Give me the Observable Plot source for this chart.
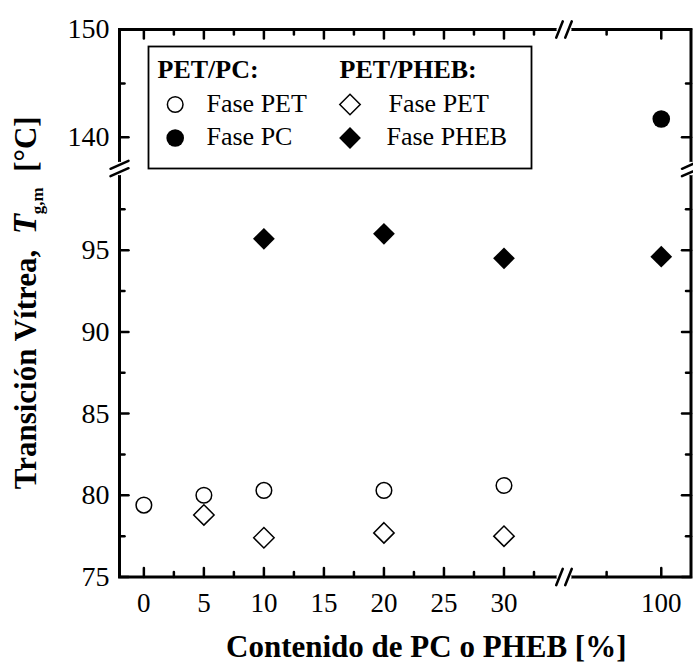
<!DOCTYPE html>
<html><head><meta charset="utf-8">
<script src="https://cdn.jsdelivr.net/npm/d3@7"></script>
<script src="https://cdn.jsdelivr.net/npm/@observablehq/plot@0.6"></script>
<style>
body{margin:0;background:#fff}
#chart{width:693px;height:664px}
</style>
</head><body><div id="chart"></div>
<script>
// ---- data ----
const pcPetX = [0, 5, 10, 20, 30];
const pcPetY = [79.4, 80.0, 80.3, 80.3, 80.6];
const pcPcX = [100];
const pcPcY = [141.7];
const phebPetX = [5, 10, 20, 30];
const phebPetY = [78.8, 77.4, 77.7, 77.5];
const phebPhebX = [10, 20, 30, 100];
const phebPhebY = [95.7, 96.0, 94.5, 94.6];
const xTicks = [0, 5, 10, 15, 20, 25, 30, 100];
const xMinor = [2.5, 7.5, 12.5, 17.5, 22.5, 27.5, 32.5, 95];
const yTicks = [75, 80, 85, 90, 95, 140, 150];
const yTickLabels = ["75", "80", "85", "90", "95", "140", "150"];
const yMinor = [77.5, 82.5, 87.5, 92.5, 97.5, 145];
const xBreak = [35];
const yBreak = [100];
const legendHeads = ["PET/PC:", "PET/PHEB:"];
const legendLabels = ["Fase PET", "Fase PC", "Fase PET", "Fase PHEB"];

const FONT = "'Liberation Serif','Times New Roman',Times,serif";
const mL = 119, mR = 2.5, mT = 29, mB = 87.5, W = 693, H = 664;

const pts = (xs, ys) => xs.map((x, i) => ({x, y: ys[i]}));

// custom vector shapes
const tickUp = {draw(c, l) { c.moveTo(0, 0); c.lineTo(0, -l); }};
const tickDown = {draw(c, l) { c.moveTo(0, 0); c.lineTo(0, l); }};
const tickRight = {draw(c, l) { c.moveTo(0, 0); c.lineTo(l, 0); }};
const tickLeft = {draw(c, l) { c.moveTo(0, 0); c.lineTo(-l, 0); }};
const gapH = {draw(c) { c.moveTo(-4.5, 0); c.lineTo(4.5, 0); }};
const slashH = {draw(c) { c.moveTo(-7.8, 8.2); c.lineTo(-1.2, -8.2); c.moveTo(1.2, 8.2); c.lineTo(7.8, -8.2); }};
const gapV = {draw(c) { c.moveTo(0, -3.8); c.lineTo(0, 3.8); }};
const slashV = {draw(c) { c.moveTo(-9, 0.3); c.lineTo(9, -7.7); c.moveTo(-9, 7.7); c.lineTo(9, -0.3); }};

const tickMarks = [];
for (const [vals, len] of [[xTicks, 9], [xMinor, 5]]) {
  tickMarks.push(Plot.vector(vals, {x: d => d, frameAnchor: "bottom", anchor: "start", length: len, shape: tickUp, strokeWidth: 2.5}));
  tickMarks.push(Plot.vector(vals, {x: d => d, frameAnchor: "top", anchor: "start", length: len, shape: tickDown, strokeWidth: 2.5}));
}
for (const [vals, len] of [[yTicks, 9], [yMinor, 5]]) {
  tickMarks.push(Plot.vector(vals, {y: d => d, frameAnchor: "left", anchor: "start", length: len, shape: tickRight, strokeWidth: 2.5}));
  tickMarks.push(Plot.vector(vals, {y: d => d, frameAnchor: "right", anchor: "start", length: len, shape: tickLeft, strokeWidth: 2.5}));
}

const breakMarks = [];
for (const fa of ["bottom", "top"]) {
  breakMarks.push(Plot.vector(xBreak, {x: d => d, frameAnchor: fa, anchor: "start", shape: gapH, stroke: "white", strokeWidth: 6}));
  breakMarks.push(Plot.vector(xBreak, {x: d => d, frameAnchor: fa, anchor: "start", shape: slashH, strokeWidth: 2.5}));
}
for (const fa of ["left", "right"]) {
  breakMarks.push(Plot.vector(yBreak, {y: d => d, frameAnchor: fa, anchor: "start", shape: gapV, stroke: "white", strokeWidth: 6}));
  breakMarks.push(Plot.vector(yBreak, {y: d => d, frameAnchor: fa, anchor: "start", shape: slashV, strokeWidth: 2.5}));
}

// legend (positions relative to the frame's top-left corner)
const LF = 26;
const legend = [
  Plot.frame({insetLeft: 29, insetTop: 17, insetRight: 159.5, insetBottom: 408.5, strokeWidth: 1.8}),
  Plot.text([legendHeads[0]], {frameAnchor: "top-left", dx: 38, dy: 40, text: d => d, textAnchor: "start", lineAnchor: "middle", fontSize: LF, fontWeight: "bold"}),
  Plot.text([legendHeads[1]], {frameAnchor: "top-left", dx: 220, dy: 40, text: d => d, textAnchor: "start", lineAnchor: "middle", fontSize: LF, fontWeight: "bold"}),
  Plot.dot([0], {frameAnchor: "top-left", dx: 55.7, dy: 75, r: 7.8, stroke: "black", strokeWidth: 1.5, fill: "white"}),
  Plot.dot([0], {frameAnchor: "top-left", dx: 55.7, dy: 108.5, r: 8.8, fill: "black", stroke: "none"}),
  Plot.dot([0], {frameAnchor: "top-left", dx: 230.5, dy: 75, r: 9.2, symbol: "diamond2", stroke: "black", strokeWidth: 1.5, fill: "white"}),
  Plot.dot([0], {frameAnchor: "top-left", dx: 230.5, dy: 108.5, r: 9.8, symbol: "diamond2", fill: "black", stroke: "none"}),
  Plot.text([legendLabels[0]], {frameAnchor: "top-left", dx: 87, dy: 74, text: d => d, textAnchor: "start", lineAnchor: "middle", fontSize: LF}),
  Plot.text([legendLabels[1]], {frameAnchor: "top-left", dx: 87, dy: 107, text: d => d, textAnchor: "start", lineAnchor: "middle", fontSize: LF}),
  Plot.text([legendLabels[2]], {frameAnchor: "top-left", dx: 269, dy: 74, text: d => d, textAnchor: "start", lineAnchor: "middle", fontSize: LF}),
  Plot.text([legendLabels[3]], {frameAnchor: "top-left", dx: 267, dy: 107, text: d => d, textAnchor: "start", lineAnchor: "middle", fontSize: LF})
];

const chart = Plot.plot({
  width: W, height: H,
  marginLeft: mL, marginRight: mR, marginTop: mT, marginBottom: mB,
  style: {fontFamily: FONT, color: "black", background: "white", overflow: "visible"},
  x: {type: "linear", domain: [-2.03, 35, 91.1, 102.72], range: [mL, 563.5, 563.5, W - mR], axis: null},
  y: {type: "linear", domain: [75, 100, 137.1, 150], range: [H - mB, 168, 168, mT], axis: null},
  marks: [
    Plot.frame({strokeWidth: 3}),
    ...tickMarks,
    ...breakMarks,
    Plot.text(xTicks, {x: d => d, frameAnchor: "bottom", dy: 26.5, lineAnchor: "middle", text: d => String(d), fontSize: 27}),
    Plot.text(yTicks, {y: d => d, frameAnchor: "left", dx: -10, textAnchor: "end", lineAnchor: "middle", text: (d, i) => yTickLabels[i], fontSize: 28}),
    Plot.text(["Contenido de PC o PHEB [%]"], {frameAnchor: "bottom", dx: 21, dy: 70.5, lineAnchor: "middle", text: d => d, fontSize: 31, fontWeight: "bold"}),
    Plot.dot(pts(pcPetX, pcPetY), {x: "x", y: "y", r: 7.8, stroke: "black", strokeWidth: 1.5, fill: "white"}),
    Plot.dot(pts(phebPetX, phebPetY), {x: "x", y: "y", r: 9.2, symbol: "diamond2", stroke: "black", strokeWidth: 1.5, fill: "white"}),
    Plot.dot(pts(pcPcX, pcPcY), {x: "x", y: "y", r: 8.8, fill: "black", stroke: "none"}),
    Plot.dot(pts(phebPhebX, phebPhebY), {x: "x", y: "y", r: 9.8, symbol: "diamond2", fill: "black", stroke: "none"}),
    ...legend
  ]
});
document.getElementById("chart").appendChild(chart);

// y-axis title with italic symbol and subscript
const cy = (mT + (H - mB)) / 2;
const yt = d3.select(chart).append("text")
  .attr("transform", `translate(25,${cy}) rotate(-90)`)
  .attr("text-anchor", "middle")
  .attr("dy", "0.35em")
  .attr("font-family", FONT).attr("font-size", 31).attr("font-weight", "bold").attr("fill", "black");
yt.append("tspan").text("Transición Vítrea,\u00a0\u00a0");
yt.append("tspan").attr("font-style", "italic").attr("font-size", 33).text("T");
yt.append("tspan").attr("font-size", 17).attr("dy", 7).text("g,m");
yt.append("tspan").attr("dy", -7).text("\u00a0\u00a0[°C]");
</script>
</body></html>
